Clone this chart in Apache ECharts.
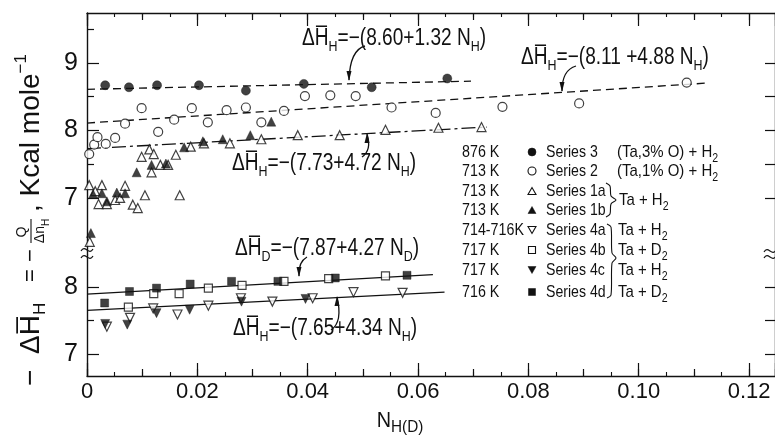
<!DOCTYPE html>
<html><head><meta charset="utf-8">
<script src="https://cdn.jsdelivr.net/npm/echarts@6/dist/echarts.min.js"></script>
<style>html,body{margin:0;padding:0;background:#fff}#c{width:775px;height:439px}</style>
</head><body><div id="c"></div>
<script>
// ---------- data ----------
const xTickLabels = ['0','0.02','0.04','0.06','0.08','0.10','0.12'];
const yUpperTicks = [7, 8, 9];
const yUpperMinor = [7.5, 8.5, 9.5];
const yLowerTicks = [7, 8];
const yLowerMinor = [7.5];

// upper panel
const series3 = [[0.0033,8.67],[0.0076,8.64],[0.0127,8.67],[0.0203,8.67],[0.0288,8.59],[0.0393,8.69],[0.0516,8.64],[0.0653,8.77]];
const series2 = [[0.0004,7.65],[0.0013,7.79],[0.0019,7.90],[0.0034,7.80],[0.0051,7.89],[0.0069,8.10],[0.0099,8.33],[0.0129,7.98],[0.0158,8.16],[0.0190,8.33],[0.0219,8.12],[0.0253,8.30],[0.0288,8.34],[0.0316,8.12],[0.0357,8.29],[0.0395,8.51],[0.0441,8.52],[0.0487,8.51],[0.0552,8.34],[0.0632,8.26],[0.0753,8.35],[0.0892,8.40],[0.1087,8.71]];
const series1a = [[0.0004,7.19],[0.0015,7.10],[0.0027,7.19],[0.0021,6.91],[0.0036,6.91],[0.0051,6.97],[0.0060,7.00],[0.0069,7.18],[0.0083,6.90],[0.0092,6.85],[0.0105,7.04],[0.0099,7.61],[0.0113,7.72],[0.0121,7.65],[0.0117,7.38],[0.0133,7.49],[0.0147,7.49],[0.0161,7.64],[0.0168,7.04],[0.0188,7.76],[0.0212,7.81],[0.0259,7.81],[0.0316,7.87],[0.0382,7.93],[0.0458,7.93],[0.0541,8.01],[0.0637,8.04],[0.0715,8.05],[0.0005,6.35]];
const series1b = [[0.0007,6.48],[0.0011,7.06],[0.0027,7.07],[0.0036,6.95],[0.0054,7.08],[0.0069,7.07],[0.0090,7.38],[0.0117,7.49],[0.0143,7.51],[0.0176,7.75],[0.0210,7.84],[0.0246,7.87],[0.0296,7.93],[0.0334,8.13]];
const fit3 = [[0,8.61],[0.0696,8.73]];
const fit2 = [[0,8.11],[0.112,8.70]];
const fit1 = [[0,7.73],[0.0725,8.05]];

// lower panel
const series4a = [[0.0036,7.41],[0.0078,7.54],[0.0120,7.68],[0.0164,7.59],[0.0220,7.72],[0.0279,7.83],[0.0336,7.78],[0.0409,7.83],[0.0483,7.92],[0.0572,7.91]];
const series4b = [[0.0075,7.70],[0.0121,7.90],[0.0167,7.90],[0.0220,7.98],[0.0281,8.02],[0.0357,8.08],[0.0438,8.12],[0.0541,8.16]];
const series4c = [[0.0033,7.45],[0.0073,7.44],[0.0126,7.61],[0.0186,7.66],[0.0280,7.78],[0.0396,7.82]];
const series4d = [[0.0032,7.76],[0.0077,7.93],[0.0126,7.98],[0.0187,8.04],[0.0262,8.08],[0.0346,8.08],[0.0450,8.13],[0.0580,8.17]];
const fit4bd = [[0,7.89],[0.0627,8.18]];
const fit4ac = [[0,7.65],[0.0648,7.92]];

// ---------- styling ----------
const FONT = "'Liberation Sans',Arial,sans-serif";
const INK = '#111';
const X_MAX = 0.1247;

const chart = echarts.init(document.getElementById('c'), null, {renderer: 'canvas'});

function xAxisDef(grid, pos, main) {
  return {
    gridIndex: grid, type: 'value', position: pos, min: 0, max: X_MAX,
    interval: main ? 0.02 : 0.01,
    axisLine: {show: main, onZero: false, lineStyle: {color: INK, width: 1.4}},
    axisTick: {show: true, inside: true, length: main ? 13 : 7, lineStyle: {color: INK, width: 1.2}},
    minorTick: {show: main, splitNumber: 4, length: 4, lineStyle: {color: INK, width: 1.1}},
    axisLabel: {show: main && pos === 'bottom', margin: 5, fontSize: 22, fontFamily: FONT, color: INK,
      formatter: v => xTickLabels[Math.round(v / 0.02)] ?? ''},
    splitLine: {show: false}
  };
}
function yAxisDef(grid, pos, min, max, ticks, len, labels, line) {
  return {
    gridIndex: grid, type: 'value', position: pos, min: min, max: max,
    axisLine: {show: line, onZero: false, lineStyle: {color: INK, width: 1.4}},
    axisTick: {show: true, inside: true, length: len, customValues: ticks, lineStyle: {color: INK, width: 1.2}},
    axisLabel: {show: !!labels, customValues: labels || [], margin: 9, fontSize: 25, fontFamily: FONT, color: INK},
    splitLine: {show: false}
  };
}

const UP = [6.155, 9.74], LO = [6.68, 8.47];

function scatter(data, sym, filled, size, xi, yi, rot) {
  return {
    type: 'scatter', data: data, xAxisIndex: xi, yAxisIndex: yi, symbol: sym, symbolSize: size,
    symbolRotate: rot || 0, z: 5, silent: true,
    itemStyle: filled ? {color: INK, borderColor: INK, borderWidth: 0.5}
                      : {color: '#fff', borderColor: INK, borderWidth: 1.2}
  };
}
function fitLine(data, dash, xi, yi) {
  return {type: 'line', data: data, xAxisIndex: xi, yAxisIndex: yi, symbol: 'none', silent: true, z: 3,
    lineStyle: {color: INK, width: 1.3, type: dash}};
}

// ---------- text helpers ----------
function rich(main, sub) {
  return {
    m: {fontSize: main, fontFamily: FONT, lineHeight: main + 8, fill: INK, color: INK},
    s: {fontSize: sub, fontFamily: FONT, lineHeight: sub, verticalAlign: 'bottom', fill: INK, color: INK},
    p: {fontSize: sub, fontFamily: FONT, lineHeight: sub, verticalAlign: 'top', fill: INK, color: INK}
  };
}
function txt(x, y, text, size, sx, align) {
  return {type: 'text', x: x, y: y, scaleX: sx || 1, silent: true,
    style: {text: text, fill: INK, font: size + 'px ' + FONT, textAlign: align || 'left', align: align || 'left',
      textVerticalAlign: 'middle', verticalAlign: 'middle'}};
}
function richTxt(x, y, text, main, sub, sx, align) {
  return {type: 'text', x: x, y: y, scaleX: sx || 1, silent: true,
    style: {text: text, rich: rich(main, sub), fill: INK, font: main + 'px ' + FONT,
      textAlign: align || 'left', align: align || 'left', textVerticalAlign: 'middle', verticalAlign: 'middle'}};
}
const HB = 'H\u0305';
function eq(sub1, body, sub2) {
  return '{m|\u0394' + HB + '}{s|' + sub1 + '}{m|=\u2212(' + body + ' N}{s|' + sub2 + '}{m|)}';
}

const graphics = [];
// equations
const EQS = 0.83;
graphics.push(richTxt(302, 39, eq('H', '8.60+1.32', 'H'), 23, 15, EQS));
graphics.push(richTxt(521, 58, eq('H', '8.11 +4.88', 'H'), 23, 15, EQS));
graphics.push(richTxt(232, 164, eq('H', '7.73+4.72', 'H'), 23, 15, EQS));
graphics.push(richTxt(235, 249, eq('D', '7.87+4.27', 'D'), 23, 15, EQS));
graphics.push(richTxt(233, 329, eq('H', '7.65+4.34', 'H'), 23, 15, EQS));

// leader lines
const leaders = [
  [365,46, 350,50, 349,80, 'down'],
  [576,66, 562,70, 562,91, 'down'],
  [362,157, 372,150, 367,134, 'up'],
  [307,257, 298,262, 299,276, 'down'],
  [331,330, 343,322, 337,297, 'up']
];
leaders.forEach(l => {
  graphics.push({type: 'bezierCurve', silent: true,
    shape: {x1: l[0], y1: l[1], cpx1: l[2], cpy1: l[3], x2: l[4], y2: l[5]},
    style: {stroke: INK, lineWidth: 1.3, fill: null}});
  const x = l[4], y = l[5];
  const pts = l[6] === 'down' ? [[x-2.5,y-9],[x+2.5,y-9],[x,y+1]] : [[x-2.5,y+9],[x+2.5,y+9],[x,y-1]];
  graphics.push({type: 'polygon', silent: true, shape: {points: pts}, style: {fill: INK}});
});

// legend block
const LS = 0.88;
const rowsY = [152, 171, 191, 210, 230, 250, 270, 292];
const temps = ['876 K','713 K','713 K','713 K','714-716K','717 K','717 K','716 K'];
const names = ['Series 3','Series 2','Series 1a','Series 1b','Series 4a','Series 4b','Series 4c','Series 4d'];
const syms = [['circle',1],['circle',0],['tri',0],['tri',1],['dtri',0],['rect',0],['dtri',1],['rect',1]];
rowsY.forEach((y, i) => {
  graphics.push(txt(462, y, temps[i], 17, 0.84));
  graphics.push(txt(546, y, names[i], 17, 0.83));
  const cx = 532, s = syms[i], st = s[1] ? {fill: INK, stroke: INK, lineWidth: 0.5} : {fill: '#fff', stroke: INK, lineWidth: 1.1};
  if (s[0] === 'circle') graphics.push({type: 'circle', silent: true, shape: {cx: cx, cy: y, r: 4}, style: st});
  if (s[0] === 'rect') graphics.push({type: 'rect', silent: true, shape: {x: cx-3.5, y: y-3.5, width: 7, height: 7}, style: st});
  if (s[0] === 'tri') graphics.push({type: 'polygon', silent: true, shape: {points: [[cx-4,y+3.5],[cx+4,y+3.5],[cx,y-3.5]]}, style: st});
  if (s[0] === 'dtri') graphics.push({type: 'polygon', silent: true, shape: {points: [[cx-4,y-3.5],[cx+4,y-3.5],[cx,y+3.5]]}, style: st});
});
graphics.push(richTxt(617, 152, '{m|(Ta,3% O) + H}{s|2}', 17, 12, LS));
graphics.push(richTxt(617, 171, '{m|(Ta,1% O) + H}{s|2}', 17, 12, LS));
graphics.push(richTxt(619, 200, '{m|Ta + H}{s|2}', 17, 12, LS));
graphics.push(richTxt(618, 230, '{m|Ta + H}{s|2}', 17, 12, LS));
graphics.push(richTxt(618, 250, '{m|Ta + D}{s|2}', 17, 12, LS));
graphics.push(richTxt(618, 270, '{m|Ta + H}{s|2}', 17, 12, LS));
graphics.push(richTxt(618, 292, '{m|Ta + D}{s|2}', 17, 12, LS));
graphics.push({type: 'polyline', silent: true, shape: {points: [[606,183],[610,186],[611,196],[616,200],[611,204],[610,214],[606,217]], smooth: 0.3}, style: {stroke: INK, lineWidth: 1.1, fill: null}});
graphics.push({type: 'polyline', silent: true, shape: {points: [[607,224],[611,227],[612,253],[616,258],[612,263],[611,295],[607,298]], smooth: 0.3}, style: {stroke: INK, lineWidth: 1.1, fill: null}});

// axis break marks
[[87,250],[87,257],[770,251],[770,257]].forEach(p => {
  graphics.push({type: 'bezierCurve', silent: true,
    shape: {x1: p[0]-6, y1: p[1]+1, cpx1: p[0]-2, cpy1: p[1]-6, cpx2: p[0]+2, cpy2: p[1]+6, x2: p[0]+6, y2: p[1]-1},
    style: {stroke: INK, lineWidth: 1.2, fill: null}});
});

// x axis title
graphics.push(richTxt(400, 421, '{m|N}{s|H(D)}', 22, 17, 0.9, 'center'));

// y axis title (rotated)
const yt = [];
yt.push(txt(2, 0, '\u2212', 28));
yt.push(richTxt(34, 0, '{m|\u0394' + HB + '}{s|H}', 28, 17));
yt.push(txt(106, 0, '=', 22));
yt.push(txt(126, 0, '\u2212', 22));
yt.push(txt(156, -9, 'Q', 14, 1, 'center'));
yt.push({type: 'line', silent: true, shape: {x1: 145, y1: 0, x2: 169, y2: 0}, style: {stroke: INK, lineWidth: 1.1}});
yt.push(richTxt(157, 9, '{m|\u0394n}{s|H}', 14, 10, 1, 'center'));
yt.push(richTxt(176, 0, '{m|, Kcal mole}{p|\u22121}', 28, 17));
graphics.push({type: 'group', x: 31, y: 388, rotation: Math.PI / 2, silent: true, children: yt});

const option = {
  backgroundColor: '#fff',
  animation: false,
  grid: [
    {left: 87, width: 689, top: 13, height: 242},
    {left: 87, width: 689, top: 255, height: 121}
  ],
  xAxis: [
    xAxisDef(1, 'bottom', true),
    xAxisDef(1, 'bottom', false),
    xAxisDef(0, 'top', true),
    xAxisDef(0, 'top', false)
  ],
  yAxis: [
    yAxisDef(0, 'left', UP[0], UP[1], yUpperTicks, 12, yUpperTicks, true),
    yAxisDef(0, 'left', UP[0], UP[1], yUpperMinor, 7, null, false),
    yAxisDef(0, 'right', UP[0], UP[1], yUpperTicks.concat(yUpperMinor.slice(0, 2)), 10, null, true),
    yAxisDef(1, 'left', LO[0], LO[1], yLowerTicks, 12, yLowerTicks, true),
    yAxisDef(1, 'left', LO[0], LO[1], yLowerMinor, 7, null, false),
    yAxisDef(1, 'right', LO[0], LO[1], yLowerTicks.concat(yLowerMinor), 10, null, true)
  ],
  series: [
    fitLine(fit3, [8, 5], 2, 0),
    fitLine(fit2, [8, 5], 2, 0),
    fitLine(fit1, [14, 4, 3, 4], 2, 0),
    scatter(series3, 'circle', true, 9, 2, 0),
    scatter(series2, 'circle', false, 9, 2, 0),
    scatter(series1a, 'triangle', false, 9, 2, 0),
    scatter(series1b, 'triangle', true, 9, 2, 0),
    fitLine(fit4bd, 'solid', 0, 3),
    fitLine(fit4ac, 'solid', 0, 3),
    scatter(series4a, 'triangle', false, 9, 0, 3, 180),
    scatter(series4b, 'rect', false, 8, 0, 3),
    scatter(series4c, 'triangle', true, 9, 0, 3, 180),
    scatter(series4d, 'rect', true, 8, 0, 3)
  ],
  graphic: {elements: graphics}
};
chart.setOption(option);
</script></body></html>
